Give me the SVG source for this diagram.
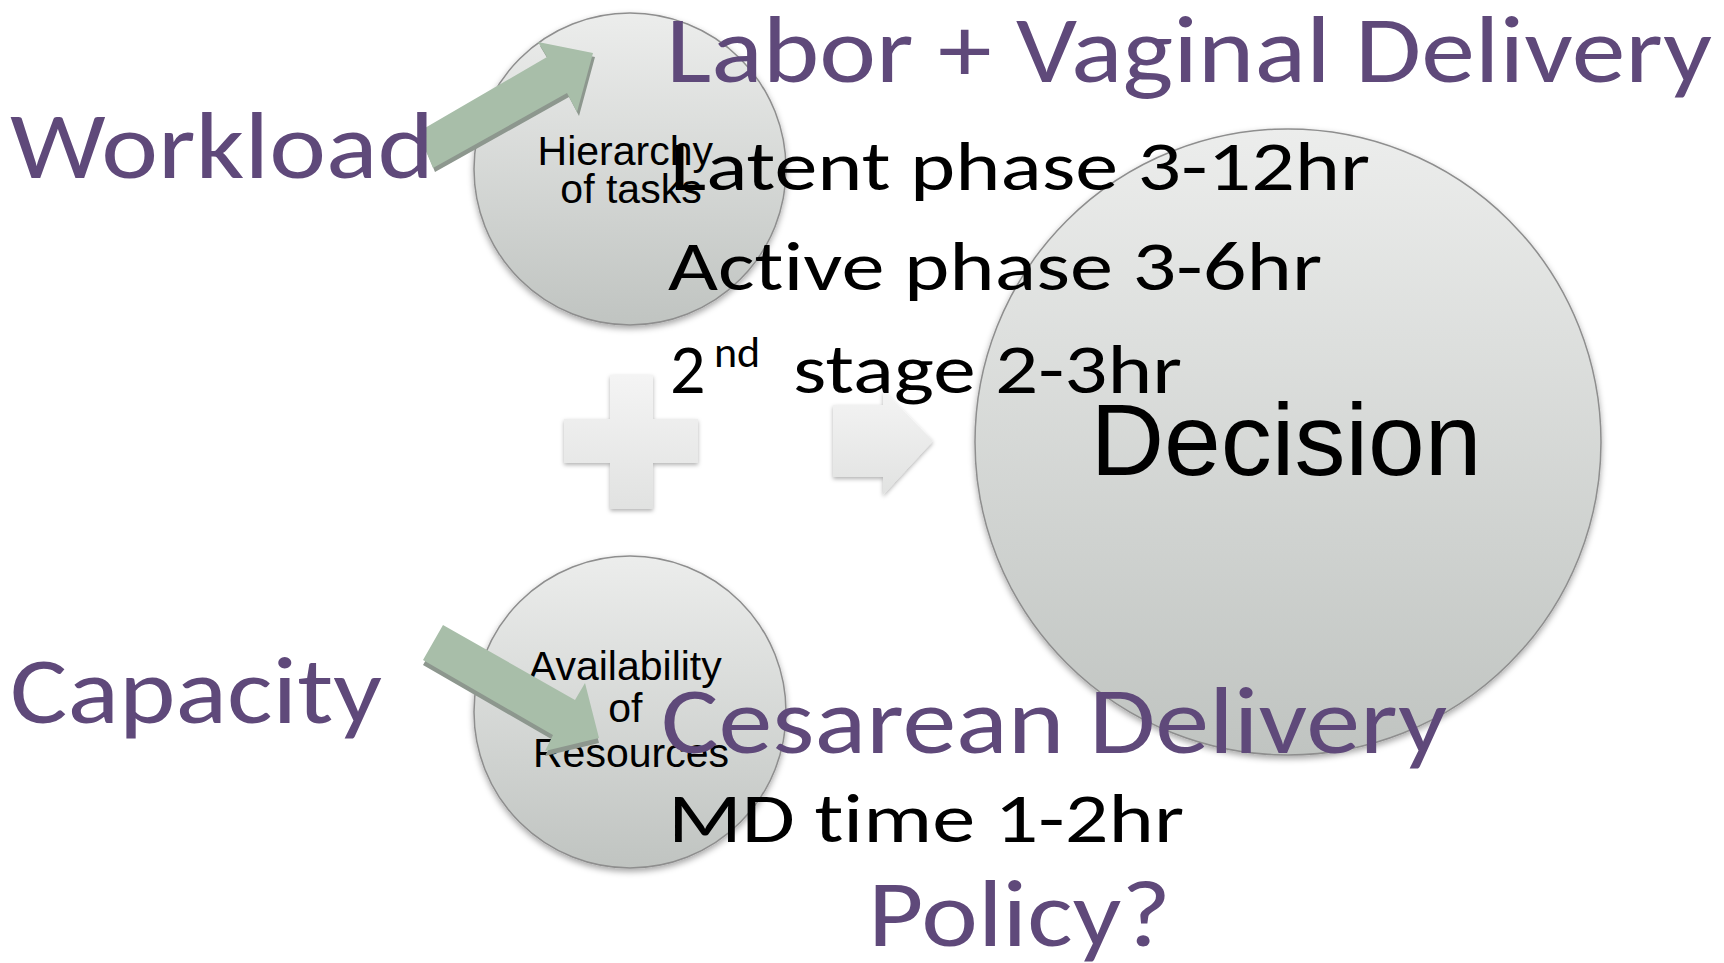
<svg xmlns="http://www.w3.org/2000/svg" width="1724" height="963" viewBox="0 0 1724 963">
  <defs>
    <linearGradient id="gCircle" x1="0" y1="0" x2="0" y2="1">
      <stop offset="0" stop-color="#ecedec"/>
      <stop offset="1" stop-color="#c0c4c1"/>
    </linearGradient>
    <linearGradient id="gLight" x1="0" y1="0" x2="0" y2="1">
      <stop offset="0" stop-color="#f4f4f4"/>
      <stop offset="1" stop-color="#e1e2e1"/>
    </linearGradient>
    <filter id="shadow" x="-20%" y="-20%" width="140%" height="140%">
      <feDropShadow dx="0" dy="3" stdDeviation="3" flood-color="#000" flood-opacity="0.35"/>
    </filter>
    <filter id="shadowSoft" x="-20%" y="-20%" width="140%" height="140%">
      <feDropShadow dx="0" dy="2" stdDeviation="2" flood-color="#000" flood-opacity="0.3"/>
    </filter>
  </defs>
  <style>
    .circle { fill: url(#gCircle); stroke: #8e8e8e; stroke-width: 1.5; filter: url(#shadow); }
    .light { fill: url(#gLight); filter: url(#shadowSoft); }
    .green { fill: #a8bea9; }
    .greenShadow { fill: #8d978e; }
    .nodeText { font-family: "Liberation Sans", Arial, sans-serif; fill: #000; }
    .purple { font-family: Carlito, Calibri, Lato, sans-serif; fill: #5f497a; font-size: 95px; font-variant-ligatures: none; font-feature-settings: "liga" 0, "clig" 0; }
    .black { font-family: Carlito, Calibri, Lato, sans-serif; fill: #000; font-size: 70px; font-variant-ligatures: none; font-feature-settings: "liga" 0, "clig" 0; }
  </style>
  <rect width="1724" height="963" fill="#ffffff"/>

  <g id="node-hierarchy">
    <circle class="circle" cx="630" cy="169" r="156"/>
    <text class="nodeText" font-size="41" text-anchor="middle">
      <tspan x="631" y="165">Hierarchy</tspan>
      <tspan x="631" y="203">of tasks</tspan>
    </text>
  </g>

  <g id="node-availability">
    <circle class="circle" cx="630" cy="712" r="156"/>
    <text class="nodeText" font-size="41" text-anchor="middle">
      <tspan x="631" y="680">Availability</tspan>
      <tspan x="631" y="722">of</tspan>
      <tspan x="631" y="767">Resources</tspan>
    </text>
  </g>

  <g id="node-decision">
    <circle class="circle" cx="1288" cy="442" r="313"/>
    <text class="nodeText" font-size="102" x="1286" y="475" text-anchor="middle">Decision</text>
  </g>

  <g id="plus">
    <path class="light" d="M610 375 H653 V419 H698 V463 H653 V509 H610 V463 H564 V419 H610 Z"/>
  </g>

  <g id="connectors">
    <path class="light" d="M833 405 H883 V390 L933 441 L883 495 V477 H833 Z"/>
    <g id="arrow-workload">
      <path class="greenShadow" d="M420 136 L549 61 L540 46 L595 57 L579 116 L569 97 L435 172 Z"/>
      <path class="green" d="M418 132 L547 57 L538 42 L593 53 L577 112 L567 93 L433 168 Z"/>
    </g>
    <g id="arrow-capacity">
      <path class="greenShadow" d="M443 630 L575 705 L585 688 L599 743 L545 756 L553 740 L423 665 Z"/>
      <path class="green" d="M443 625 L575 700 L585 683 L599 738 L545 751 L553 735 L423 660 Z"/>
    </g>
  </g>

  <g id="labels">
    <text class="purple" x="666" y="82" textLength="1046" lengthAdjust="spacingAndGlyphs">Labor + Vaginal Delivery</text>
    <text class="purple" x="10" y="178" textLength="424" lengthAdjust="spacingAndGlyphs">Workload</text>
    <text class="purple" x="10" y="723" textLength="372" lengthAdjust="spacingAndGlyphs">Capacity</text>
    <text class="purple" x="661" y="753" textLength="786" lengthAdjust="spacingAndGlyphs">Cesarean Delivery</text>
    <text class="purple" x="868" y="946" textLength="303" lengthAdjust="spacingAndGlyphs">Policy?</text>
    <text class="black" x="670" y="190" textLength="700" lengthAdjust="spacingAndGlyphs">Latent phase 3-12hr</text>
    <text class="black" x="668" y="290" textLength="654" lengthAdjust="spacingAndGlyphs">Active phase 3-6hr</text>
    <text class="black"><tspan x="670" y="393">2</tspan><tspan x="714" y="367" font-size="44">nd </tspan><tspan x="793" y="393" textLength="389" lengthAdjust="spacingAndGlyphs">stage 2-3hr</tspan></text>
    <text class="black" x="668" y="842" textLength="516" lengthAdjust="spacingAndGlyphs">MD time 1-2hr</text>
  </g>
</svg>
